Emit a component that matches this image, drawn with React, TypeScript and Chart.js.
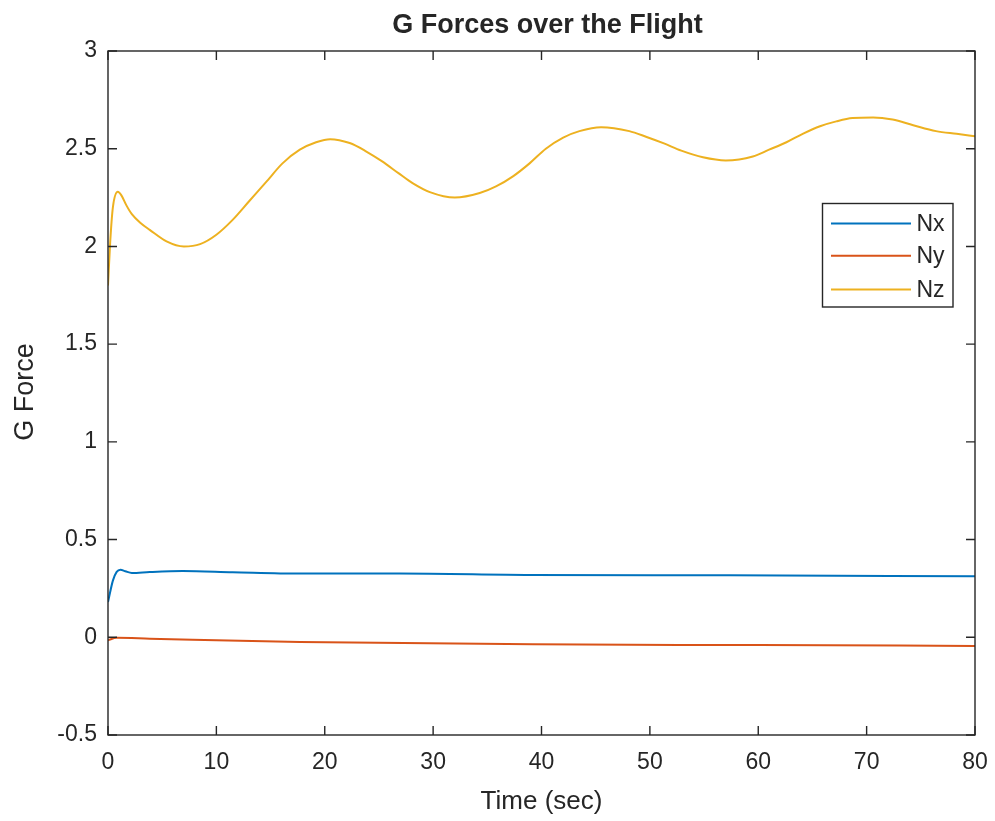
import React, { useEffect, useRef } from "react";
import { Chart, registerables } from "chart.js";

Chart.register(...registerables);

const chartTitle = "G Forces over the Flight";
const xAxisLabel = "Time (sec)";
const yAxisLabel = "G Force";
const seriesLabels = ["Nx", "Ny", "Nz"];
const seriesColors = ["#0072BD", "#D95319", "#EDB120"];

const xTickValues = [0, 10, 20, 30, 40, 50, 60, 70, 80];
const yTickValues = [-0.5, 0, 0.5, 1, 1.5, 2, 2.5, 3];

const nxTime = [0, 0.45, 0.8, 1.15, 1.6, 2.2, 3.85, 6.9, 11.5, 17.7, 26.9, 39, 57.3, 80];
const nxValues = [0.18, 0.29, 0.335, 0.346, 0.338, 0.329, 0.334, 0.339, 0.333, 0.326, 0.326, 0.319, 0.317, 0.312];

const nyTime = [0, 0.8, 3.85, 17.7, 39.2, 60, 80];
const nyValues = [-0.015, -0.003, -0.007, -0.024, -0.036, -0.04, -0.044];

const nzTime = [
  0, 0.2, 0.45, 0.9, 1.25, 1.7, 2.2, 3.0, 3.85, 5.4, 7.0, 8.5, 10.0, 11.5, 13.0, 14.6, 16.1, 17.7, 19.2,
  20.5, 22.3, 23.8, 25.3, 26.8, 28.1, 29.7, 32.0, 34.3, 35.8, 37.4, 38.9, 40.4, 42.0, 43.5, 45.5, 48.1,
  49.7, 51.3, 52.9, 54.9, 57.0, 59.5, 61.0, 62.6, 64.1, 65.7, 67.2, 68.7, 70.6, 72.4, 74.3, 76.4, 78.3, 80,
];
const nzValues = [
  1.8, 2.02, 2.2, 2.28, 2.26, 2.21, 2.165, 2.12, 2.085, 2.026, 2.0, 2.012, 2.06, 2.136, 2.23, 2.33, 2.425,
  2.495, 2.533, 2.549, 2.529, 2.487, 2.435, 2.375, 2.324, 2.278, 2.25, 2.273, 2.307, 2.36, 2.425, 2.5,
  2.557, 2.59, 2.61, 2.59, 2.56, 2.527, 2.49, 2.456, 2.44, 2.46, 2.495, 2.533, 2.576, 2.615, 2.64, 2.657,
  2.66, 2.649, 2.62, 2.59, 2.576, 2.564,
];

const FONT = "'Liberation Sans', Arial, Helvetica, sans-serif";
const INK = "#262626";

function toPoints(t: number[], v: number[]) {
  return t.map((x, i) => ({ x, y: v[i] }));
}

const matlabPlugin = {
  id: "matlabDecor",
  afterDatasetsDraw(chart: any) {
    const { ctx, chartArea: a, scales } = chart;
    const xs = scales.x;
    const ys = scales.y;
    ctx.save();
    ctx.strokeStyle = INK;
    ctx.lineWidth = 1.4;
    ctx.strokeRect(a.left, a.top, a.right - a.left, a.bottom - a.top);
    const tl = 9;
    ctx.beginPath();
    xs.ticks.forEach((t: any) => {
      const px = xs.getPixelForValue(t.value);
      ctx.moveTo(px, a.bottom);
      ctx.lineTo(px, a.bottom - tl);
      ctx.moveTo(px, a.top);
      ctx.lineTo(px, a.top + tl);
    });
    ys.ticks.forEach((t: any) => {
      const py = ys.getPixelForValue(t.value);
      ctx.moveTo(a.left, py);
      ctx.lineTo(a.left + tl, py);
      ctx.moveTo(a.right, py);
      ctx.lineTo(a.right - tl, py);
    });
    ctx.stroke();

    ctx.fillStyle = INK;
    ctx.font = `bold 27px ${FONT}`;
    ctx.textAlign = "center";
    ctx.textBaseline = "alphabetic";
    ctx.fillText(chartTitle, (a.left + a.right) / 2 + 6, 33);

    ctx.font = `26px ${FONT}`;
    ctx.fillText(xAxisLabel, (a.left + a.right) / 2, 809);

    ctx.save();
    ctx.translate(33, 392);
    ctx.rotate(-Math.PI / 2);
    ctx.font = `27px ${FONT}`;
    ctx.fillText(yAxisLabel, 0, 0);
    ctx.restore();

    const lx = a.right - 152.5;
    const ly = a.top + 152.5;
    const lw = 130.5;
    const lh = 103.5;
    ctx.fillStyle = "#ffffff";
    ctx.fillRect(lx, ly, lw, lh);
    ctx.strokeStyle = INK;
    ctx.lineWidth = 1.4;
    ctx.strokeRect(lx, ly, lw, lh);
    const rows = [20, 52.3, 86];
    chart.data.datasets.forEach((ds: any, i: number) => {
      const yy = ly + rows[i];
      ctx.strokeStyle = ds.borderColor;
      ctx.lineWidth = 2;
      ctx.beginPath();
      ctx.moveTo(lx + 8.5, yy);
      ctx.lineTo(lx + 88.5, yy);
      ctx.stroke();
      ctx.fillStyle = INK;
      ctx.font = `23px ${FONT}`;
      ctx.textAlign = "left";
      ctx.textBaseline = "middle";
      ctx.fillText(ds.label, lx + 94, yy + 1);
    });
    ctx.restore();
  },
};

export default function App() {
  const canvasRef = useRef<HTMLCanvasElement | null>(null);

  useEffect(() => {
    const canvas = canvasRef.current;
    if (!canvas) return;
    const seriesTimes = [nxTime, nyTime, nzTime];
    const seriesValues = [nxValues, nyValues, nzValues];
    const chart = new Chart(canvas, {
      type: "line",
      data: {
        datasets: seriesLabels.map((label, i) => ({
          label,
          data: toPoints(seriesTimes[i], seriesValues[i]),
          borderColor: seriesColors[i],
          backgroundColor: seriesColors[i],
          borderWidth: 2,
          pointRadius: 0,
          fill: false,
          cubicInterpolationMode: "monotone" as const,
        })),
      },
      options: {
        animation: false,
        responsive: false,
        devicePixelRatio: 1,
        layout: { padding: { top: 51, right: 20, left: 0, bottom: 0 } },
        plugins: {
          legend: { display: false },
          title: { display: false },
          tooltip: { enabled: false },
        },
        scales: {
          x: {
            type: "linear",
            min: 0,
            max: 80,
            afterBuildTicks: (s: any) => {
              s.ticks = xTickValues.map((v) => ({ value: v }));
            },
            afterFit: (s: any) => {
              s.height = 86;
              s.paddingLeft = 0;
              s.paddingRight = 0;
            },
            grid: { display: false, drawTicks: false },
            border: { display: false },
            ticks: {
              padding: 14,
              color: INK,
              font: { family: FONT, size: 23 },
              maxRotation: 0,
              autoSkip: false,
              callback: (v: any) => String(v),
            },
          },
          y: {
            type: "linear",
            min: -0.5,
            max: 3,
            afterBuildTicks: (s: any) => {
              s.ticks = yTickValues.map((v) => ({ value: v }));
            },
            afterFit: (s: any) => {
              s.width = 108;
              s.paddingTop = 0;
              s.paddingBottom = 0;
            },
            grid: { display: false, drawTicks: false },
            border: { display: false },
            ticks: {
              padding: 11,
              color: INK,
              font: { family: FONT, size: 23 },
              autoSkip: false,
              callback: (v: any) => String(v),
            },
          },
        },
      },
      plugins: [matlabPlugin],
    });
    return () => chart.destroy();
  }, []);

  return (
    <div style={{ position: "absolute", left: 0, top: 0, width: 995, height: 821, background: "#fff" }}>
      <canvas ref={canvasRef} width={995} height={821} />
    </div>
  );
}
